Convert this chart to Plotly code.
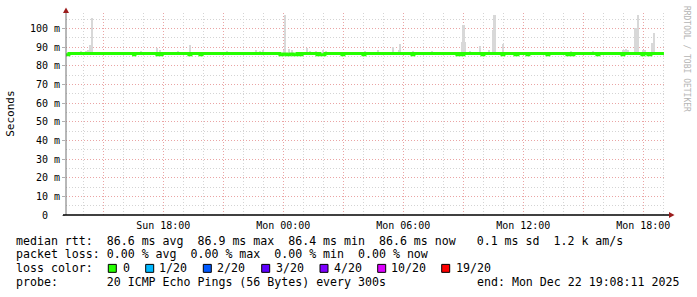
import plotly.graph_objects as go
import pandas as pd

# ---------------- data ----------------
median_times = [
    "2025-12-21 13:08", "2025-12-21 13:17", "2025-12-21 16:31", "2025-12-21 16:35",
    "2025-12-21 17:41", "2025-12-21 17:47", "2025-12-21 17:50", "2025-12-21 17:56",
    "2025-12-21 19:17", "2025-12-21 19:23", "2025-12-21 19:50", "2025-12-21 19:56",
    "2025-12-21 23:50", "2025-12-22 00:00", "2025-12-22 00:10", "2025-12-22 00:20",
    "2025-12-22 00:30", "2025-12-22 00:41", "2025-12-22 00:50", "2025-12-22 00:56",
    "2025-12-22 01:41", "2025-12-22 01:47", "2025-12-22 01:50", "2025-12-22 02:05",
    "2025-12-22 02:56", "2025-12-22 03:02", "2025-12-22 03:59", "2025-12-22 04:05",
    "2025-12-22 06:26", "2025-12-22 06:32", "2025-12-22 08:41", "2025-12-22 08:47",
    "2025-12-22 08:56", "2025-12-22 09:02", "2025-12-22 09:56", "2025-12-22 10:02",
    "2025-12-22 10:56", "2025-12-22 11:02", "2025-12-22 11:35", "2025-12-22 11:44",
    "2025-12-22 12:11", "2025-12-22 12:17", "2025-12-22 13:11", "2025-12-22 13:17",
    "2025-12-22 14:11", "2025-12-22 14:17", "2025-12-22 14:26", "2025-12-22 14:32",
    "2025-12-22 15:41", "2025-12-22 15:47", "2025-12-22 16:56", "2025-12-22 17:02",
    "2025-12-22 17:56", "2025-12-22 18:02", "2025-12-22 18:14", "2025-12-22 18:23",
    "2025-12-22 19:02",
]
median_ms = [
    85.9, 86.6, 85.9, 86.6,
    85.9, 86.6, 85.9, 86.6,
    85.9, 86.6, 85.9, 86.6,
    85.9, 86.3, 85.9, 86.3,
    85.9, 86.6, 85.9, 86.6,
    85.9, 86.6, 85.9, 86.6,
    85.9, 86.6, 85.9, 86.6,
    85.9, 86.6, 85.9, 86.6,
    85.9, 86.6, 85.9, 86.6,
    85.9, 86.6, 85.9, 86.6,
    85.9, 86.6, 85.9, 86.6,
    85.9, 86.6, 85.9, 86.6,
    85.9, 86.6, 85.9, 86.6,
    85.9, 86.6, 85.9, 86.6,
    86.6,
]

smoke_times = [
    "2025-12-21 13:55", "2025-12-21 14:10", "2025-12-21 14:15", "2025-12-21 14:20",
    "2025-12-21 14:24", "2025-12-21 14:28", "2025-12-21 16:53", "2025-12-21 17:43",
    "2025-12-21 17:50", "2025-12-21 18:44", "2025-12-21 19:22", "2025-12-21 21:11",
    "2025-12-21 22:38", "2025-12-21 22:50", "2025-12-21 23:00", "2025-12-22 00:02",
    "2025-12-22 00:07", "2025-12-22 00:17", "2025-12-22 00:28", "2025-12-22 01:13",
    "2025-12-22 01:20", "2025-12-22 01:40", "2025-12-22 02:00", "2025-12-22 02:10",
    "2025-12-22 04:05", "2025-12-22 04:44", "2025-12-22 05:31", "2025-12-22 05:48",
    "2025-12-22 05:52", "2025-12-22 06:29", "2025-12-22 07:26", "2025-12-22 08:56",
    "2025-12-22 09:00", "2025-12-22 09:03", "2025-12-22 09:07", "2025-12-22 09:20",
    "2025-12-22 09:52", "2025-12-22 10:19", "2025-12-22 10:30", "2025-12-22 10:34",
    "2025-12-22 10:37", "2025-12-22 11:00", "2025-12-22 14:23", "2025-12-22 15:29",
    "2025-12-22 16:59", "2025-12-22 17:04", "2025-12-22 17:09", "2025-12-22 17:14",
    "2025-12-22 17:36", "2025-12-22 17:40", "2025-12-22 17:45", "2025-12-22 18:01",
    "2025-12-22 18:05", "2025-12-22 18:26", "2025-12-22 18:29", "2025-12-22 18:33",
]
smoke_max_ms = [
    88.0, 88.0, 88.2, 91.0,
    91.0, 105.6, 88.0, 89.5,
    88.5, 88.0, 91.2, 88.0,
    88.5, 88.0, 88.2, 88.5,
    107.3, 88.8, 88.6, 89.7,
    88.0, 88.0, 88.2, 88.0,
    88.0, 88.2, 90.2, 88.5,
    91.5, 88.0, 88.0, 93.0,
    102.0, 102.0, 93.0, 88.0,
    90.5, 88.5, 99.4, 107.3,
    107.3, 91.5, 88.0, 88.0,
    88.5, 88.3, 88.8, 88.5,
    100.1, 100.1, 107.3, 88.6,
    88.6, 92.0, 92.0, 97.4,
]
smoke_min_ms = 86.0

x_tick_times = [
    "2025-12-21 15:00", "2025-12-21 18:00", "2025-12-21 21:00", "2025-12-22 00:00",
    "2025-12-22 03:00", "2025-12-22 06:00", "2025-12-22 09:00", "2025-12-22 12:00",
    "2025-12-22 15:00", "2025-12-22 18:00",
]
x_tick_labels = ["", "Sun 18:00", "", "Mon 00:00", "", "Mon 06:00", "", "Mon 12:00", "", "Mon 18:00"]

y_tick_vals = [0, 10, 20, 30, 40, 50, 60, 70, 80, 90, 100]
y_tick_labels = ["0\u00a0\u00a0", "10 m", "20 m", "30 m", "40 m", "50 m", "60 m", "70 m", "80 m", "90 m", "100 m"]

start_time = "2025-12-21 13:08:11"
end_time = "2025-12-22 19:08:11"

loss_labels = ["0", "1/20", "2/20", "3/20", "4/20", "10/20", "19/20"]
loss_colors = ["#26ff00", "#00b8ff", "#0059ff", "#5e00ff", "#7e00ff", "#dd00ff", "#ff0000"]

legend_line1 = "median rtt:  86.6 ms avg  86.9 ms max  86.4 ms min  86.6 ms now   0.1 ms sd  1.2 k am/s"
legend_line2 = "packet loss: 0.00 % avg  0.00 % max  0.00 % min  0.00 % now"
probe_text = "probe:       20 ICMP Echo Pings (56 Bytes) every 300s"
end_text = "end: Mon Dec 22 19:08:11 2025"

# ---------------- layout geometry ----------------
W_FIG, H_FIG = 697, 297
L, R, T, B = 66, 666, 13, 215.5
PW, PH = R - L, B - T
MONO = "DejaVu Sans Mono"


def px(x):
    return (x - L) / PW


def py(y):
    return (B - y) / PH


def nb(s):
    return s.replace(" ", "\u00a0")


fig = go.Figure()

fig.add_trace(go.Bar(
    x=pd.to_datetime(smoke_times),
    y=[v - smoke_min_ms for v in smoke_max_ms],
    base=smoke_min_ms,
    width=300000,
    marker=dict(color="#d8d8d8", line=dict(width=0)),
    hoverinfo="skip",
    showlegend=False,
))

fig.add_trace(go.Scatter(
    x=pd.to_datetime(median_times),
    y=median_ms,
    mode="lines",
    line=dict(color="#26ff00", width=3, shape="hv"),
    showlegend=False,
))

grid_dash = "1px,2px"
fig.update_xaxes(
    type="date",
    range=[start_time, end_time],
    tickmode="array",
    tickvals=x_tick_times,
    ticktext=x_tick_labels,
    showgrid=True,
    gridcolor="#eaa4a4",
    griddash=grid_dash,
    gridwidth=1,
    minor=dict(dtick=3600000, showgrid=True, gridcolor="#d4d4d4", griddash=grid_dash, gridwidth=1),
    ticks="",
    ticklabelstandoff=3,
    showline=False,
    zeroline=False,
    tickfont=dict(family=MONO, size=10, color="#000000"),
    fixedrange=True,
)
fig.update_yaxes(
    range=[0, 108.3],
    tickmode="array",
    tickvals=y_tick_vals,
    ticktext=y_tick_labels,
    showgrid=True,
    gridcolor="#eaa4a4",
    griddash=grid_dash,
    gridwidth=1,
    minor=dict(dtick=5, showgrid=True, gridcolor="#d4d4d4", griddash=grid_dash, gridwidth=1),
    ticks="outside",
    ticklen=3,
    tickcolor="#b0b0b0",
    showline=False,
    zeroline=False,
    tickfont=dict(family=MONO, size=10, color="#000000"),
    fixedrange=True,
)

shapes = []
# y axis line and arrow
shapes.append(dict(type="line", xref="paper", yref="paper", x0=px(66), x1=px(66), y0=py(B), y1=py(10),
                   line=dict(color="#707070", width=1)))
shapes.append(dict(type="path", xref="paper", yref="paper",
                   path=f"M {px(66)} {py(7.5)} L {px(63)} {py(13)} L {px(69)} {py(13)} Z",
                   fillcolor="#9b1c1c", line=dict(width=0)))
# x axis line and arrow
shapes.append(dict(type="line", xref="paper", yref="paper", x0=px(63), x1=px(669), y0=py(B), y1=py(B),
                   line=dict(color="#000000", width=1.5)))
shapes.append(dict(type="path", xref="paper", yref="paper",
                   path=f"M {px(674.5)} {py(B)} L {px(669)} {py(B - 3)} L {px(669)} {py(B + 3)} Z",
                   fillcolor="#9b1c1c", line=dict(width=0)))

box_x = [108.3, 145.7, 203.3, 261.7, 320.0, 377.7, 441.7]
label_x = [123.0, 159.0, 217.3, 275.7, 334.0, 390.7, 455.7]
for bx, col in zip(box_x, loss_colors):
    shapes.append(dict(type="rect", xref="paper", yref="paper",
                       x0=px(bx), x1=px(bx + 8), y0=py(273), y1=py(265),
                       fillcolor=col, line=dict(color="#000000", width=1)))

annotations = []


def add_text(x, y, text, size=11.6, color="#000000", anchor="left", angle=0):
    annotations.append(dict(
        xref="paper", yref="paper", x=px(x), y=py(y), text=nb(text),
        showarrow=False, xanchor=anchor, yanchor="middle", textangle=angle,
        font=dict(family=MONO, size=size, color=color), borderpad=0, borderwidth=0,
    ))


add_text(15.5, 241.3, legend_line1)
add_text(15.5, 254.7, legend_line2)
add_text(15.5, 269.0, "loss color:")
for lx, lab in zip(label_x, loss_labels):
    add_text(lx, 269.0, lab)
add_text(15.5, 282.3, probe_text)
add_text(477.0, 282.3, end_text)

annotations.append(dict(xref="paper", yref="paper", x=px(11), y=py(114), text="Seconds",
                        showarrow=False, textangle=-90, xanchor="center", yanchor="middle",
                        font=dict(family=MONO, size=11, color="#000000")))
annotations.append(dict(xref="paper", yref="paper", x=px(686), y=py(59), text=nb("RRDTOOL / TOBI OETIKER"),
                        showarrow=False, textangle=90, xanchor="center", yanchor="middle",
                        font=dict(family=MONO, size=8, color="#b4b4b4")))

fig.update_layout(
    width=W_FIG, height=H_FIG,
    margin=dict(l=L, r=W_FIG - R, t=T, b=H_FIG - B, pad=0),
    paper_bgcolor="#ffffff",
    plot_bgcolor="#ffffff",
    showlegend=False,
    bargap=0,
    shapes=shapes,
    annotations=annotations,
)

fig.write_html("out.html", include_plotlyjs=True, config={"displayModeBar": False})
